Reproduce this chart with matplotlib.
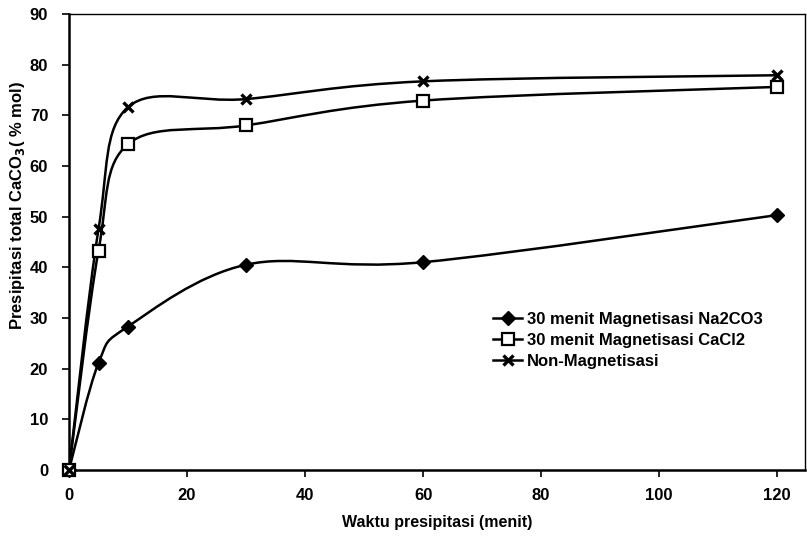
import numpy as np
import matplotlib
matplotlib.use("Agg")
import matplotlib.pyplot as plt
from matplotlib.path import Path
from matplotlib.patches import PathPatch
from matplotlib.lines import Line2D

plt.rcParams['font.family'] = ['Liberation Sans', 'DejaVu Sans']
plt.rcParams['font.weight'] = 'bold'

time_min = [0, 5, 10, 30, 60, 120]
na2co3 = [0, 21.1, 28.3, 40.5, 41.0, 50.3]
cacl2 = [0, 43.3, 64.3, 68.0, 72.9, 75.6]
non_mag = [0, 47.5, 71.6, 73.2, 76.7, 77.9]

labels = ["30 menit Magnetisasi Na2CO3", "30 menit Magnetisasi CaCl2", "Non-Magnetisasi"]
xticks = [0, 20, 40, 60, 80, 100, 120]
yticks = [0, 10, 20, 30, 40, 50, 60, 70, 80, 90]


def smooth_path(x, y):
    p = np.column_stack([x, y]).astype(float)
    n = len(p)
    verts = [p[0]]
    codes = [Path.MOVETO]
    for i in range(n - 1):
        p0 = p[i - 1] if i > 0 else p[i]
        p1 = p[i]
        p2 = p[i + 1]
        p3 = p[i + 2] if i + 2 < n else p[i + 1]
        c1 = p1 + (p2 - p0) / 6.0
        c2 = p2 - (p3 - p1) / 6.0
        verts += [c1, c2, p2]
        codes += [Path.CURVE4] * 3
    return Path(verts, codes)


fig = plt.figure(figsize=(8.07, 5.37), dpi=100)
ax = fig.add_axes([0.0855, 0.125, 0.912, 0.849])

series = [
    (na2co3, dict(marker='D', markersize=7, markerfacecolor='black', markeredgecolor='black')),
    (cacl2, dict(marker='s', markersize=8.5, markerfacecolor='white', markeredgecolor='black', markeredgewidth=1.6)),
    (non_mag, dict(marker='x', markersize=7.5, markerfacecolor='black', markeredgecolor='black', markeredgewidth=2.4)),
]

handles = []
for (vals, mk), lab in zip(series, labels):
    patch = PathPatch(smooth_path(time_min, vals), facecolor='none', edgecolor='black',
                      lw=1.8, transform=ax.transData, zorder=2)
    ax.add_patch(patch)
    ax.plot(time_min, vals, linestyle='none', zorder=3, clip_on=False, **mk)
    handles.append(Line2D([], [], color='black', lw=1.8, **mk))

ax.set_xlim(0, 124.7)
ax.set_ylim(0, 90)
ax.set_xticks(xticks)
ax.set_yticks(yticks)
ax.tick_params(axis='x', direction='out', length=5, width=1.2, labelsize=12, pad=8)
ax.tick_params(axis='y', direction='out', length=5, width=1.2, labelsize=12, pad=10)
for lab in ax.get_xticklabels() + ax.get_yticklabels():
    lab.set_fontweight('bold')
for side in ['left', 'bottom']:
    ax.spines[side].set_linewidth(1.8)
for side in ['top', 'right']:
    ax.spines[side].set_linewidth(1.0)

ax.set_xlabel("Waktu presipitasi (menit)", fontsize=11.5, fontweight='bold')
ax.set_ylabel("Presipitasi total CaCO$_3$( % mol)", fontsize=12, fontweight='bold')
ax.xaxis.set_label_coords(0.5, -0.098)
ax.yaxis.set_label_coords(-0.057, 0.58)

ax.legend(handles, labels, loc='upper left', bbox_to_anchor=(0.556, 0.379), frameon=False,
          handlelength=1.75, handletextpad=0.3, labelspacing=0.35,
          prop={'weight': 'bold', 'size': 12})

fig.savefig("out.png", dpi=100)
